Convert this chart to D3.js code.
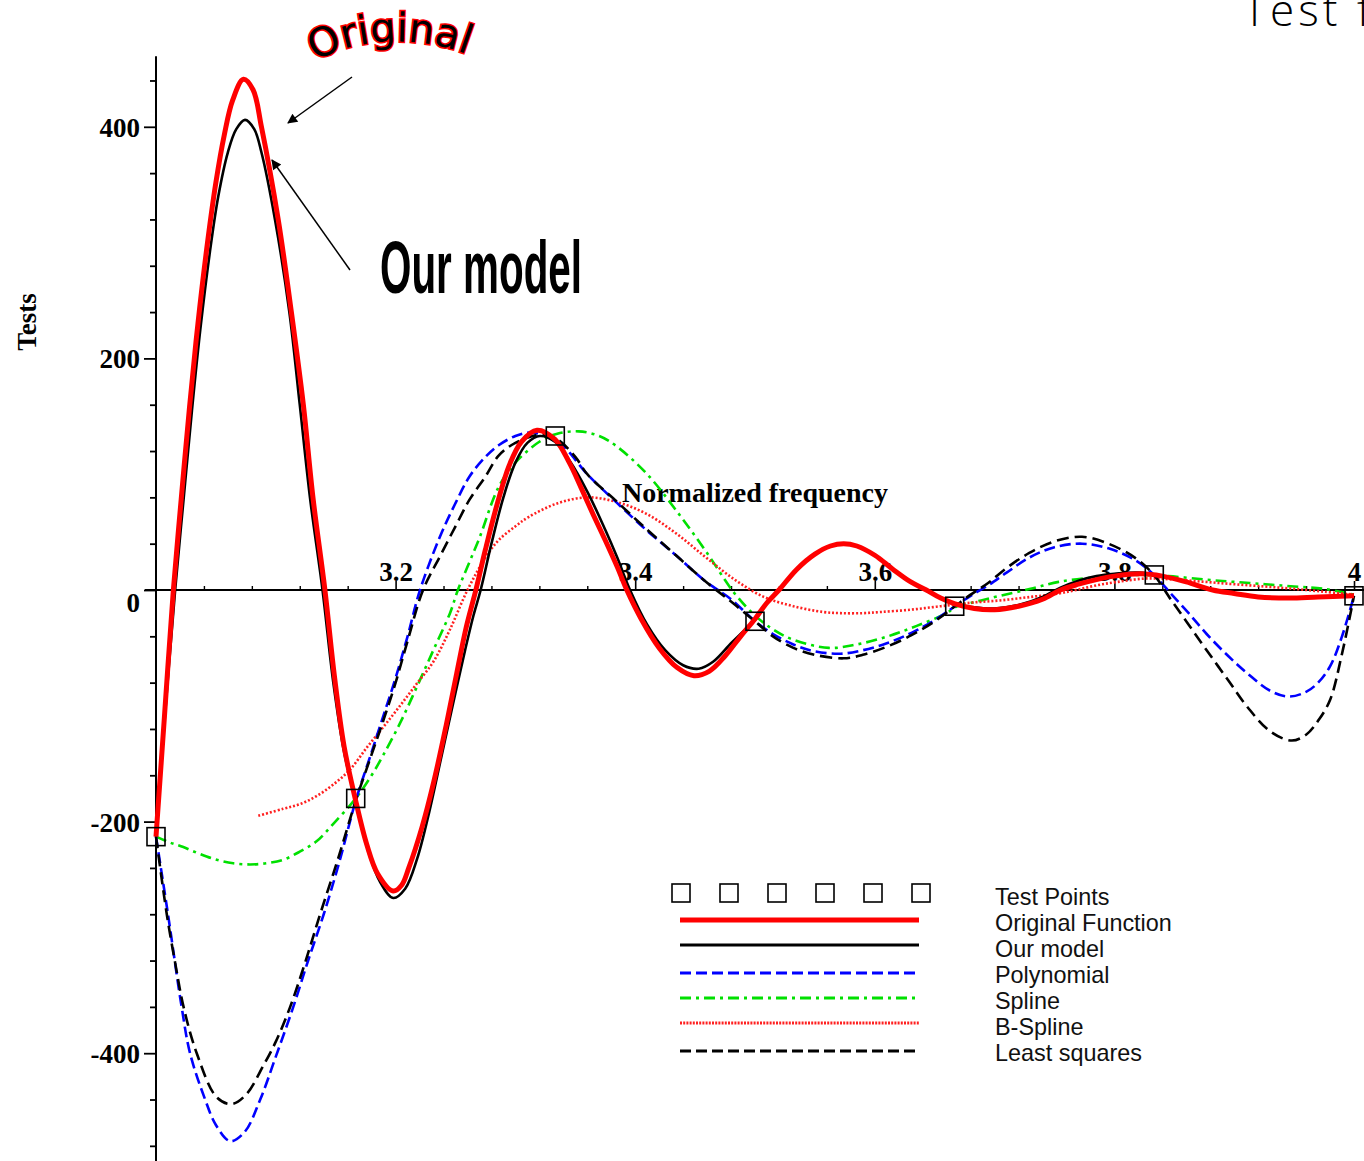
<!DOCTYPE html>
<html><head><meta charset="utf-8">
<script src="https://cdn.jsdelivr.net/npm/d3@7"></script>
<style>html,body{margin:0;padding:0;background:#fff;overflow:hidden}</style>
</head><body><svg id="c" width="1364" height="1161"></svg>
<script>
// ---------- data ----------
const testX = [3.0, 3.1667, 3.3333, 3.5, 3.6667, 3.8333, 4.0];
const testY = [-213, -180, 133, -27, -14, 13, -5];

const originalData = [[3.000,-213],[3.007,-110],[3.0145,0],[3.021,78],[3.028,158],[3.035,230],[3.043,300],[3.050,352],[3.057,393],[3.064,423],[3.073,441],[3.081,432],[3.088,400],[3.102,320],[3.113,240],[3.123,160],[3.131,80],[3.141,0],[3.149,-75],[3.157,-135],[3.1667,-182],[3.176,-220],[3.185,-245],[3.198,-260],[3.205,-255],[3.211,-240],[3.222,-205],[3.232,-165],[3.242,-118],[3.251,-72],[3.259,-32],[3.267,0],[3.275,35],[3.285,75],[3.295,108],[3.305,128],[3.318,138],[3.333,130],[3.345,110],[3.355,88],[3.365,65],[3.375,43],[3.385,20],[3.393,0],[3.405,-25],[3.42,-50],[3.435,-67],[3.449,-74],[3.462,-70],[3.475,-57],[3.488,-40],[3.500,-25],[3.51,-11],[3.52,0],[3.535,18],[3.55,31],[3.563,38],[3.574,40],[3.585,38],[3.600,30],[3.615,18],[3.630,7],[3.643,0],[3.655,-7],[3.667,-12],[3.683,-16],[3.700,-17],[3.720,-14],[3.740,-8],[3.755,0],[3.770,5],[3.785,9],[3.800,12],[3.822,14],[3.840,12],[3.860,7],[3.882,0],[3.900,-3],[3.920,-6],[3.946,-7],[3.970,-6],[4.000,-5]];

const modelData = [[3.000,-213],[3.007,-115],[3.016,0],[3.023,78],[3.030,155],[3.037,225],[3.045,292],[3.052,340],[3.060,378],[3.067,398],[3.0743,406],[3.082,398],[3.088,378],[3.0993,320],[3.1113,240],[3.120,160],[3.1285,80],[3.139,0],[3.148,-80],[3.157,-140],[3.1667,-182],[3.177,-225],[3.187,-252],[3.198,-266],[3.208,-258],[3.218,-232],[3.228,-192],[3.238,-145],[3.248,-98],[3.258,-52],[3.265,-22],[3.271,0],[3.28,40],[3.29,80],[3.30,110],[3.31,127],[3.3205,133],[3.333,128],[3.345,112],[3.36,85],[3.375,52],[3.385,28],[3.3957,0],[3.41,-30],[3.425,-52],[3.44,-65],[3.453,-68],[3.465,-62],[3.48,-46],[3.49,-36],[3.500,-26],[3.51,-11],[3.52,0],[3.535,18],[3.55,31],[3.563,38],[3.574,40],[3.585,38],[3.6,30],[3.615,18],[3.63,7],[3.643,0],[3.655,-7],[3.667,-12],[3.683,-15],[3.7,-16],[3.72,-13],[3.74,-6],[3.755,2],[3.77,8],[3.785,12],[3.8,14],[3.82,15],[3.84,12],[3.86,7],[3.882,0],[3.9,-3],[3.92,-6],[3.946,-7],[3.97,-6],[4.0,-5]];

const polynomialData = [[3.000,-213],[3.010,-280],[3.0214,-360],[3.0284,-400],[3.041,-440],[3.050,-462],[3.062,-476],[3.074,-468],[3.087,-440],[3.100,-403],[3.1146,-360],[3.127,-320],[3.140,-280],[3.153,-235],[3.1667,-182],[3.18,-140],[3.19,-108],[3.20,-76],[3.21,-40],[3.2204,0],[3.237,46],[3.25,75],[3.2617,98],[3.275,115],[3.286,125],[3.30,133],[3.312,136],[3.325,133],[3.34,124],[3.36,100],[3.385,75],[3.409,52],[3.434,30],[3.458,8],[3.48,-8],[3.5,-27],[3.515,-38],[3.532,-47],[3.55,-53],[3.5716,-55],[3.59,-52],[3.61,-46],[3.6306,-37],[3.65,-26],[3.667,-14],[3.68,-5],[3.6946,4],[3.71,15],[3.729,28],[3.75,37],[3.773,40],[3.795,36],[3.817,26],[3.833,13],[3.847,-3],[3.862,-20],[3.877,-38],[3.895,-57],[3.911,-72],[3.93,-87],[3.9454,-92],[3.96,-88],[3.97,-80],[3.98,-66],[3.99,-40],[4.0,-5]];

const splineData = [[3.000,-213],[3.0114,-218],[3.0228,-222],[3.0367,-228],[3.0506,-233],[3.0645,-236],[3.0785,-237],[3.092,-236],[3.106,-233],[3.12,-226],[3.134,-217],[3.148,-202],[3.1667,-180],[3.18,-160],[3.19,-142],[3.2037,-115],[3.2176,-84],[3.2315,-52],[3.2454,-20],[3.252,0],[3.26,20],[3.27,45],[3.286,89],[3.30,110],[3.32,128],[3.335,135],[3.3527,137],[3.37,133],[3.3846,124],[3.41,100],[3.434,69],[3.458,35],[3.483,-3],[3.5,-22],[3.515,-34],[3.532,-43],[3.5618,-50],[3.585,-47],[3.611,-40],[3.635,-31],[3.66,-20],[3.667,-15],[3.685,-10],[3.7045,-5],[3.73,1],[3.7535,7],[3.785,11],[3.817,13],[3.845,12],[3.876,9],[3.90,7],[3.926,5],[3.95,3],[3.975,1],[4.0,-4]];

const bsplineData = [[3.0854,-195],[3.106,-189],[3.12,-185],[3.134,-178],[3.148,-168],[3.162,-155],[3.176,-136],[3.19,-118],[3.2037,-100],[3.2176,-81],[3.2315,-62],[3.245,-35],[3.26,0],[3.275,28],[3.286,43],[3.30,55],[3.311,63],[3.3355,75],[3.36,80],[3.3846,76],[3.409,66],[3.434,49],[3.458,29],[3.483,9],[3.5075,-6],[3.532,-14],[3.557,-19],[3.5716,-20],[3.59,-20],[3.605,-19],[3.63,-17],[3.655,-14],[3.68,-11],[3.7045,-9],[3.73,-6],[3.7535,-3],[3.768,0],[3.785,4],[3.8027,7],[3.827,10],[3.85,9],[3.876,7],[3.90,5],[3.926,3],[3.95,1],[3.975,-1.5],[4.0,-4]];

const leastSquaresData = [[3.000,-213],[3.009,-280],[3.016,-322],[3.023,-360],[3.034,-400],[3.0506,-438],[3.063,-444],[3.075,-436],[3.090,-410],[3.100,-390],[3.112,-360],[3.125,-320],[3.137,-280],[3.152,-232],[3.1667,-182],[3.18,-142],[3.19,-112],[3.20,-80],[3.21,-44],[3.2229,0],[3.237,29],[3.25,55],[3.2617,78],[3.275,98],[3.286,116],[3.30,127],[3.3205,134],[3.335,130],[3.35,115],[3.36,100],[3.385,76],[3.409,53],[3.434,30],[3.458,8],[3.48,-10],[3.5,-27],[3.515,-40],[3.532,-50],[3.55,-56],[3.574,-59],[3.59,-56],[3.61,-49],[3.6306,-39],[3.65,-27],[3.667,-14],[3.68,-4],[3.6946,6],[3.71,19],[3.729,32],[3.75,42],[3.773,46],[3.795,40],[3.817,28],[3.833,13],[3.847,-8],[3.862,-30],[3.877,-52],[3.895,-78],[3.911,-101],[3.93,-122],[3.948,-130],[3.96,-125],[3.97,-113],[3.98,-95],[3.99,-55],[4.0,-5]];

const legendLabels = ["Test Points","Original Function","Our model","Polynomial","Spline","B-Spline","Least squares"];
const yMajorTicks = [-400,-200,0,200,400];
const yMinorTicks = [-480,-440,-360,-320,-280,-240,-160,-120,-80,-40,40,80,120,160,240,280,320,360,440];
const xMajorTicks = [3.2,3.4,3.6,3.8,4.0];
const xTickLabels = ["3.2","3.4","3.6","3.8","4"];
const xMinorTicks = [3.04,3.08,3.12,3.16,3.24,3.28,3.32,3.36,3.44,3.48,3.52,3.56,3.64,3.68,3.72,3.76,3.84,3.88,3.92,3.96];
const xTitle = "Normalized frequency";
const yTitle = "Tests";
const pageTitle = "Test functions";

// ---------- drawing ----------
const svg = d3.select("#c");
svg.append("rect").attr("width",1364).attr("height",1161).attr("fill","#fff");

const x = d3.scaleLinear().domain([3,4]).range([156,1354]);
const y = d3.scaleLinear().domain([0,400]).range([590,126.8]);

const serif = "'Liberation Serif','Times New Roman',serif";
const sans = "'Liberation Sans',Arial,sans-serif";

// axis lines
svg.append("line").attr("x1",x(3)).attr("x2",x(3)).attr("y1",y(461)).attr("y2",y(-500))
  .attr("stroke","#000").attr("stroke-width",2);
svg.append("line").attr("x1",x(2.9908)).attr("x2",x(4.02)).attr("y1",y(0)).attr("y2",y(0))
  .attr("stroke","#000").attr("stroke-width",2);

// y axis ticks
const yAxisMajor = svg.append("g").attr("transform",`translate(${x(3)},0)`)
  .call(d3.axisLeft(y).tickValues(yMajorTicks).tickSize(12).tickPadding(4).tickFormat(d=>String(d)));
yAxisMajor.select(".domain").remove();
yAxisMajor.selectAll("line").attr("stroke","#000").attr("stroke-width",1.8);
yAxisMajor.selectAll("text").attr("font-family",serif).attr("font-weight","bold").attr("font-size",27).attr("fill","#000")
  .attr("dy",(d)=> d===0 ? "0.8em" : "0.35em");
const yAxisMinor = svg.append("g").attr("transform",`translate(${x(3)},0)`)
  .call(d3.axisLeft(y).tickValues(yMinorTicks).tickSize(6).tickFormat(""));
yAxisMinor.select(".domain").remove();
yAxisMinor.selectAll("line").attr("stroke","#000").attr("stroke-width",1.8);

// x axis ticks (upward)
const xAxisMajor = svg.append("g").attr("transform",`translate(0,${y(0)})`)
  .call(d3.axisTop(x).tickValues(xMajorTicks).tickSize(9).tickPadding(0).tickFormat((d,i)=>xTickLabels[i]));
xAxisMajor.select(".domain").remove();
xAxisMajor.selectAll("line").attr("stroke","#000").attr("stroke-width",1.6);
xAxisMajor.selectAll("text").attr("font-family",serif).attr("font-weight","bold").attr("font-size",27).attr("fill","#000");
const xAxisMinor = svg.append("g").attr("transform",`translate(0,${y(0)})`)
  .call(d3.axisTop(x).tickValues(xMinorTicks).tickSize(4).tickFormat(""));
xAxisMinor.select(".domain").remove();
xAxisMinor.selectAll("line").attr("stroke","#000").attr("stroke-width",1.4);

// axis titles
svg.append("text").attr("x",755).attr("y",502).attr("text-anchor","middle")
  .attr("font-family",serif).attr("font-weight","bold").attr("font-size",27)
  .attr("textLength",266).attr("lengthAdjust","spacingAndGlyphs").text(xTitle);
svg.append("text").attr("transform","translate(36,322) rotate(-90)").attr("text-anchor","middle")
  .attr("font-family",serif).attr("font-weight","bold").attr("font-size",27).text(yTitle);

// curves
const line = d3.line().x(d=>x(d[0])).y(d=>y(d[1])).curve(d3.curveCatmullRom.alpha(0.5));
const series = [
  {data:splineData, color:"#00e000", w:2.6, dash:"11,5,3,5"},
  {data:bsplineData, color:"#ff2020", w:2.6, dash:"2,2"},
  {data:polynomialData, color:"#0000ff", w:2.6, dash:"11,5"},
  {data:leastSquaresData, color:"#000", w:2.6, dash:"12,6"},
  {data:modelData, color:"#000", w:2.6, dash:null},
  {data:originalData, color:"#ff0000", w:5, dash:null}
];
svg.append("g").selectAll("path").data(series).join("path")
  .attr("d",d=>line(d.data)).attr("fill","none")
  .attr("stroke",d=>d.color).attr("stroke-width",d=>d.w)
  .attr("stroke-dasharray",d=>d.dash).attr("stroke-linejoin","round");

// test points
svg.append("g").selectAll("rect").data(testX).join("rect")
  .attr("x",(d)=>x(d)-9).attr("y",(d,i)=>y(testY[i])-9).attr("width",18).attr("height",18)
  .attr("fill","none").attr("stroke","#000").attr("stroke-width",1.6);

// legend
const lg = svg.append("g");
const legX1 = 680, legX2 = 919, legTextX = 995;
for (let k=0;k<6;k++){
  lg.append("rect").attr("x",672+k*48).attr("y",884).attr("width",18).attr("height",18)
    .attr("fill","none").attr("stroke","#000").attr("stroke-width",1.6);
}
const legLines = [
  {yy:920, color:"#ff0000", w:5, dash:null},
  {yy:945, color:"#000", w:3, dash:null},
  {yy:973, color:"#0000ff", w:3, dash:"11,5"},
  {yy:998, color:"#00e000", w:3, dash:"11,5,3,5"},
  {yy:1023, color:"#ff2020", w:3, dash:"2,1.2"},
  {yy:1051, color:"#000", w:3, dash:"11,5"}
];
lg.selectAll("line").data(legLines).join("line")
  .attr("x1",legX1).attr("x2",legX2).attr("y1",d=>d.yy).attr("y2",d=>d.yy)
  .attr("stroke",d=>d.color).attr("stroke-width",d=>d.w).attr("stroke-dasharray",d=>d.dash);
lg.selectAll("text").data(legendLabels).join("text")
  .attr("x",legTextX).attr("y",(d,i)=>905+i*26)
  .attr("font-family",sans).attr("font-size",23.4).attr("fill","#111").text(d=>d);

// annotations
const defs = svg.append("defs");
defs.append("marker").attr("id","ah").attr("viewBox","0 0 10 10").attr("refX",9).attr("refY",5)
  .attr("markerWidth",14).attr("markerHeight",10).attr("markerUnits","userSpaceOnUse").attr("orient","auto")
  .append("path").attr("d","M0,0 L10,5 L0,10 Z").attr("fill","#000");
svg.append("line").attr("x1",352).attr("y1",77).attr("x2",288).attr("y2",123)
  .attr("stroke","#000").attr("stroke-width",1.5).attr("marker-end","url(#ah)");
svg.append("line").attr("x1",350).attr("y1",270).attr("x2",272).attr("y2",160)
  .attr("stroke","#000").attr("stroke-width",1.5).attr("marker-end","url(#ah)");

defs.append("path").attr("id","arc").attr("d","M 312 64 C 352 36, 436 30, 498 70");
svg.append("text").attr("font-family","'DejaVu Sans',Verdana,sans-serif").attr("font-size",40)
  .attr("fill","#000").attr("stroke","#ff0000").attr("stroke-width",3).attr("paint-order","stroke")
  .append("textPath").attr("href","#arc").attr("startOffset",4).text("Original");

svg.append("text").attr("x",380).attr("y",293).attr("font-family",sans).attr("font-weight","bold")
  .attr("font-size",74).attr("textLength",202).attr("lengthAdjust","spacingAndGlyphs").attr("fill","#000").text("Our model");

// page title (cut off at the right edge, as in the source)
svg.append("text").attr("x",1243).attr("y",26).attr("font-family","'Open Sans',sans-serif").attr("font-weight",300)
  .attr("font-size",44).attr("letter-spacing",4).attr("fill","#000").text(pageTitle);
</script>
</body></html>
